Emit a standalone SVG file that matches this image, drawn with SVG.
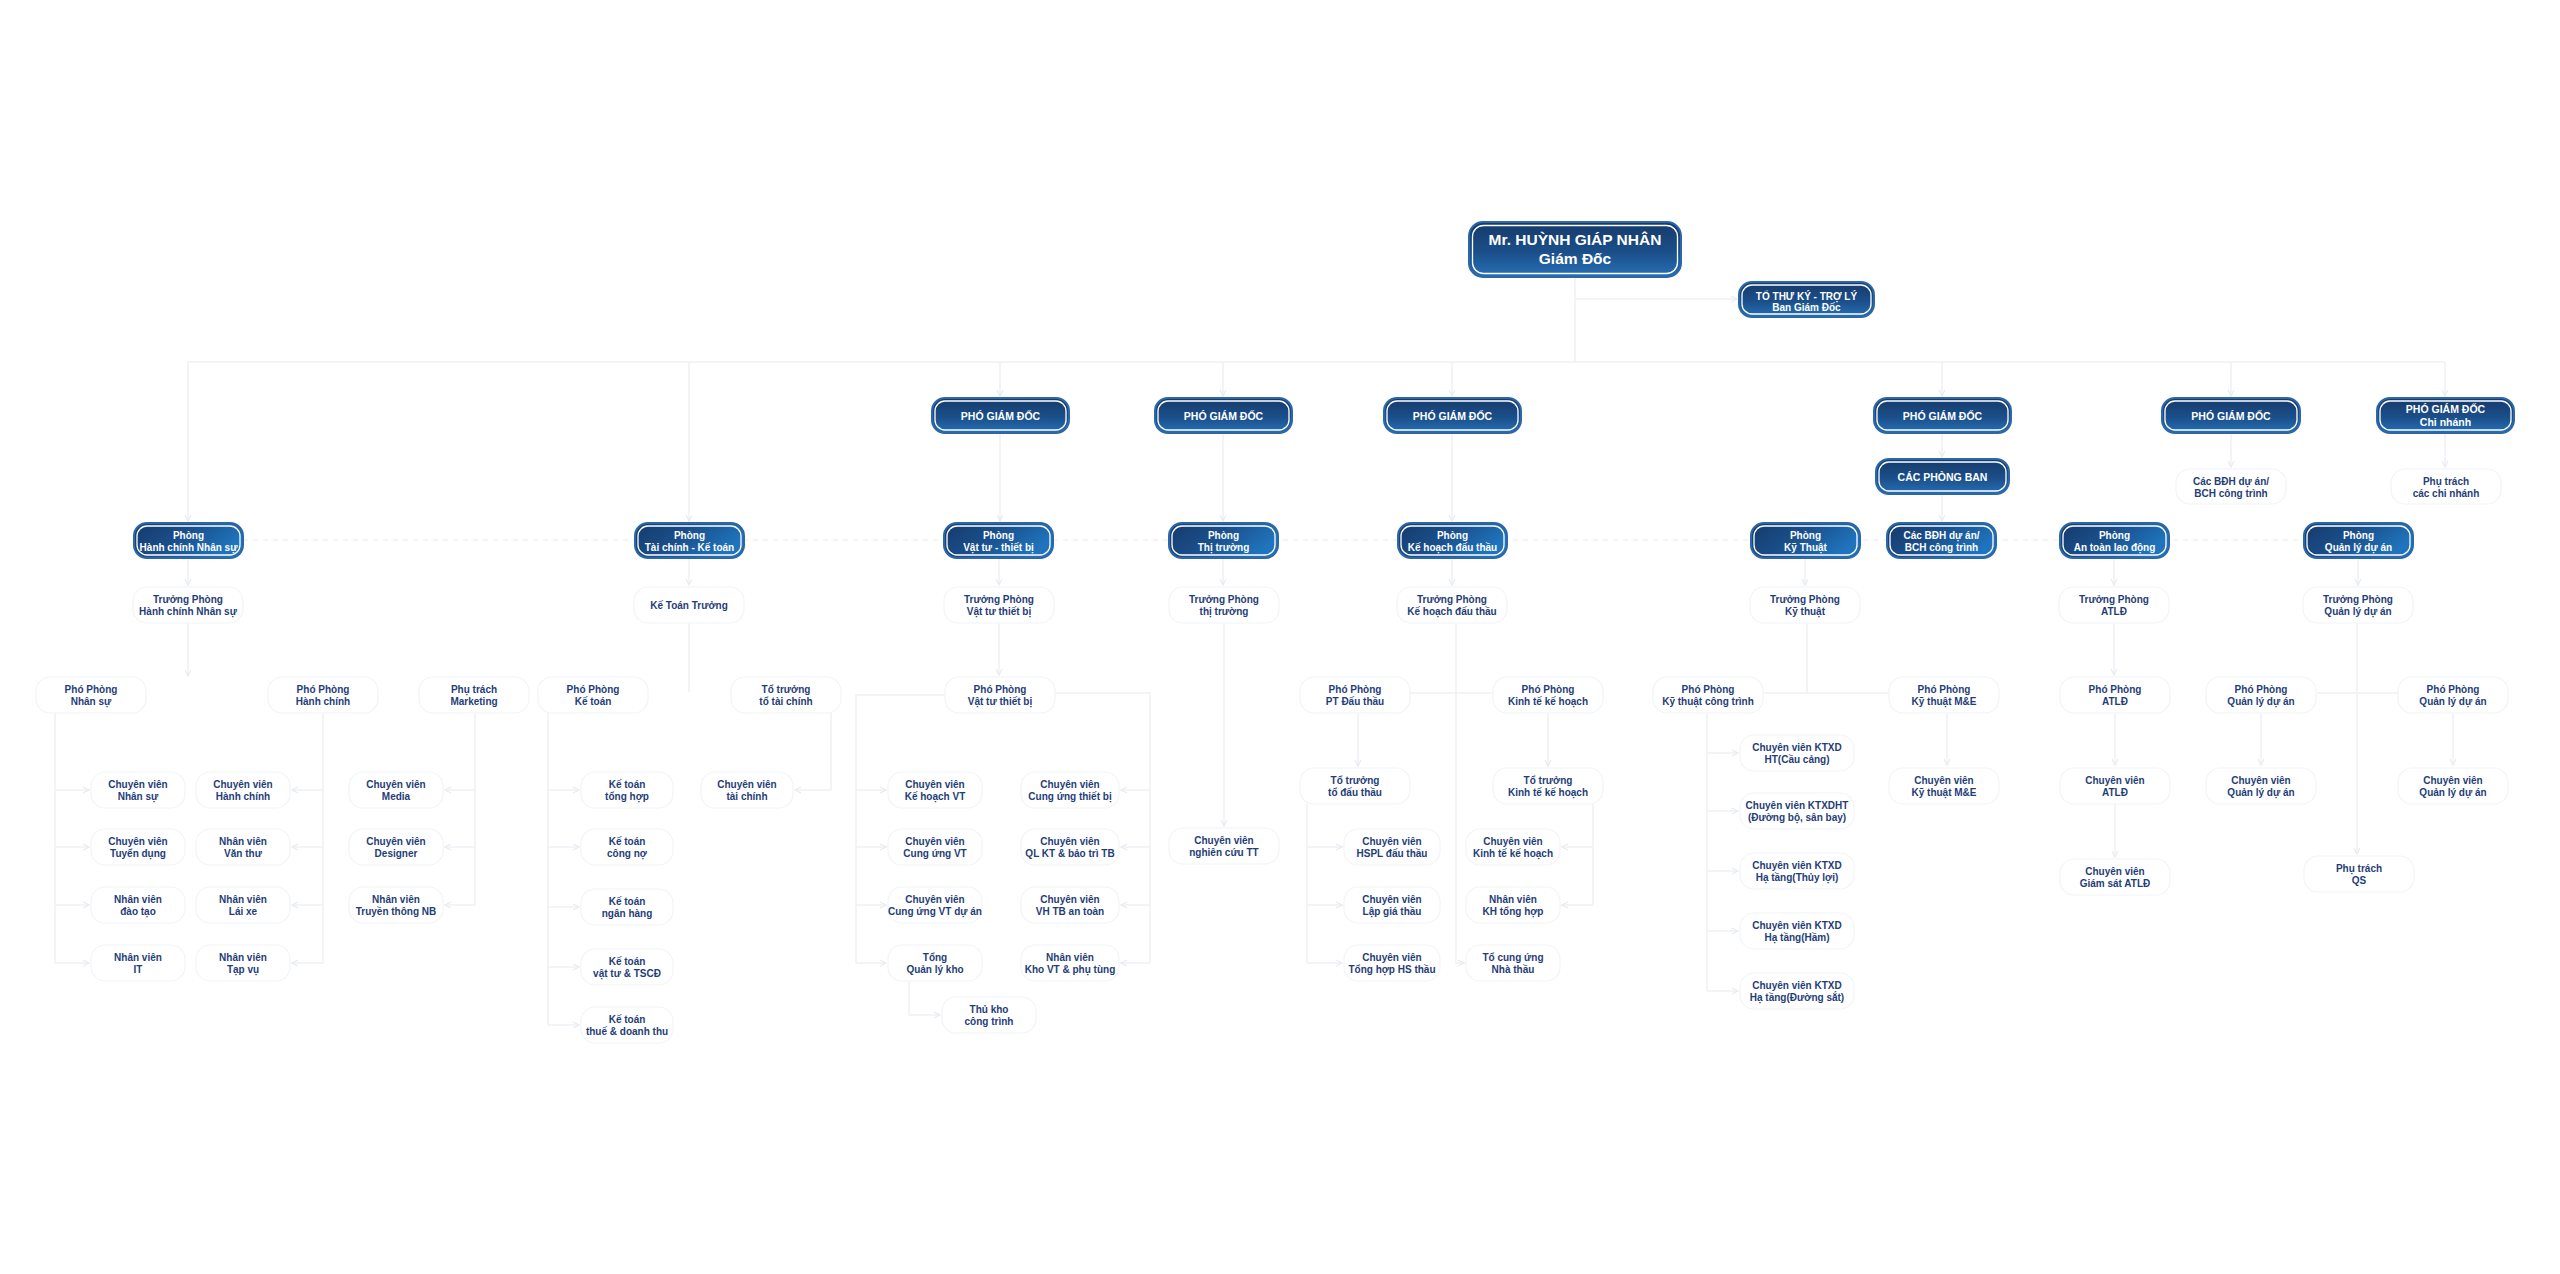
<svg xmlns="http://www.w3.org/2000/svg" width="2560" height="1274" viewBox="0 0 2560 1274">
<defs>
<linearGradient id="gv" x1="0" y1="0" x2="0" y2="1"><stop offset="0" stop-color="#163a6a"/><stop offset="0.55" stop-color="#1b4f8a"/><stop offset="1" stop-color="#2670b6"/></linearGradient>
<linearGradient id="gh" x1="0" y1="0" x2="1" y2="0.4"><stop offset="0" stop-color="#163a6a"/><stop offset="0.5" stop-color="#1a4f8b"/><stop offset="1" stop-color="#1f74bd"/></linearGradient>
<marker id="a" viewBox="0 0 8 8" refX="7" refY="4" markerWidth="8" markerHeight="8" markerUnits="userSpaceOnUse" orient="auto"><path d="M1,1 L7,4 L1,7" fill="none" stroke="#e8ebef" stroke-width="1.2"/></marker>
<style>
.bo{fill:url(#gv);stroke:#2c67a8;stroke-width:2}
.bp{fill:url(#gh);stroke:#2c67a8;stroke-width:2}
.bi{fill:none;stroke:#ffffff;stroke-width:1.3}
.bt{fill:#ffffff;font-family:"Liberation Sans",Arial,sans-serif;font-weight:bold;text-anchor:middle}
.wn{fill:#ffffff;stroke:#f2f4f7;stroke-width:1.2}
.wt{fill:#1f3d78;font-family:"Liberation Sans",Arial,sans-serif;font-weight:bold;font-size:10px;text-anchor:middle}
.c{fill:none;stroke:#eff1f4;stroke-width:1.5}
.d{stroke-dasharray:5 5}
</style>
</defs>
<rect width="2560" height="1274" fill="#ffffff"/>
<g id="connectors" class="c">
<path d="M1575,277 V362"/>
<path d="M1575,299 H1737" marker-end="url(#a)"/>
<path d="M188,362 H2445"/>
<path d="M188,362 V521" marker-end="url(#a)"/>
<path d="M689,362 V521" marker-end="url(#a)"/>
<path d="M1000,362 V396" marker-end="url(#a)"/>
<path d="M1223,362 V396" marker-end="url(#a)"/>
<path d="M1452,362 V396" marker-end="url(#a)"/>
<path d="M1942,362 V396" marker-end="url(#a)"/>
<path d="M2231,362 V396" marker-end="url(#a)"/>
<path d="M2445,362 V396" marker-end="url(#a)"/>
<path d="M1000,434 V521" marker-end="url(#a)"/>
<path d="M1223,434 V521" marker-end="url(#a)"/>
<path d="M1452,434 V521" marker-end="url(#a)"/>
<path d="M1942,434 V457" marker-end="url(#a)"/>
<path d="M1942,494 V521" marker-end="url(#a)"/>
<path d="M2231,434 V467" marker-end="url(#a)"/>
<path d="M2445,434 V467" marker-end="url(#a)"/>
<path class="c d" d="M243,540 H2304"/>
<path d="M188,558 V585" marker-end="url(#a)"/>
<path d="M689,558 V585" marker-end="url(#a)"/>
<path d="M999,558 V585" marker-end="url(#a)"/>
<path d="M1223,558 V585" marker-end="url(#a)"/>
<path d="M1452,558 V585" marker-end="url(#a)"/>
<path d="M1805,558 V585" marker-end="url(#a)"/>
<path d="M2114,558 V585" marker-end="url(#a)"/>
<path d="M2358,558 V585" marker-end="url(#a)"/>
<path d="M188,623 V676" marker-end="url(#a)"/>
<path d="M689,623 V692"/>
<path d="M999,623 V675" marker-end="url(#a)"/>
<path d="M1224,623 V826" marker-end="url(#a)"/>
<path d="M1456,623 V963 H1464" marker-end="url(#a)"/>
<path d="M1410,693 H1493"/>
<path d="M1807,623 V693"/>
<path d="M1763,693 H1889"/>
<path d="M2114,623 V675" marker-end="url(#a)"/>
<path d="M2357,623 V854" marker-end="url(#a)"/>
<path d="M2317,693 H2398"/>
<path d="M55,713 V963"/>
<path d="M55,790 H89" marker-end="url(#a)"/>
<path d="M55,847 H89" marker-end="url(#a)"/>
<path d="M55,905 H89" marker-end="url(#a)"/>
<path d="M55,963 H89" marker-end="url(#a)"/>
<path d="M323,713 V963"/>
<path d="M323,790 H292" marker-end="url(#a)"/>
<path d="M323,847 H292" marker-end="url(#a)"/>
<path d="M323,905 H292" marker-end="url(#a)"/>
<path d="M323,963 H292" marker-end="url(#a)"/>
<path d="M475,713 V905"/>
<path d="M475,790 H445" marker-end="url(#a)"/>
<path d="M475,847 H445" marker-end="url(#a)"/>
<path d="M475,905 H445" marker-end="url(#a)"/>
<path d="M548,713 V1025"/>
<path d="M548,790 H579" marker-end="url(#a)"/>
<path d="M548,847 H579" marker-end="url(#a)"/>
<path d="M548,907 H579" marker-end="url(#a)"/>
<path d="M548,967 H579" marker-end="url(#a)"/>
<path d="M548,1025 H579" marker-end="url(#a)"/>
<path d="M831,713 V790 H795" marker-end="url(#a)"/>
<path d="M945,695 H856 V963"/>
<path d="M856,790 H886" marker-end="url(#a)"/>
<path d="M856,847 H886" marker-end="url(#a)"/>
<path d="M856,905 H886" marker-end="url(#a)"/>
<path d="M856,963 H886" marker-end="url(#a)"/>
<path d="M1055,693 H1150 V963"/>
<path d="M1150,790 H1121" marker-end="url(#a)"/>
<path d="M1150,847 H1121" marker-end="url(#a)"/>
<path d="M1150,905 H1121" marker-end="url(#a)"/>
<path d="M1150,963 H1121" marker-end="url(#a)"/>
<path d="M909,981 V1015 H940" marker-end="url(#a)"/>
<path d="M1358,713 V766" marker-end="url(#a)"/>
<path d="M1307,804 V963"/>
<path d="M1307,847 H1342" marker-end="url(#a)"/>
<path d="M1307,905 H1342" marker-end="url(#a)"/>
<path d="M1307,963 H1342" marker-end="url(#a)"/>
<path d="M1548,713 V766" marker-end="url(#a)"/>
<path d="M1593,804 V905"/>
<path d="M1593,847 H1562" marker-end="url(#a)"/>
<path d="M1593,905 H1562" marker-end="url(#a)"/>
<path d="M1707,713 V991"/>
<path d="M1707,753 H1738" marker-end="url(#a)"/>
<path d="M1707,811 H1738" marker-end="url(#a)"/>
<path d="M1707,871 H1738" marker-end="url(#a)"/>
<path d="M1707,931 H1738" marker-end="url(#a)"/>
<path d="M1707,991 H1738" marker-end="url(#a)"/>
<path d="M1947,713 V765" marker-end="url(#a)"/>
<path d="M2115,713 V765" marker-end="url(#a)"/>
<path d="M2115,804 V857" marker-end="url(#a)"/>
<path d="M2261,713 V765" marker-end="url(#a)"/>
<path d="M2453,713 V765" marker-end="url(#a)"/>
</g>

<g id="n-director"><rect class="bo" x="1469" y="222" width="212" height="55" rx="14"/><rect class="bi" x="1472.5" y="225.5" width="205" height="48" rx="11"/><text class="bt" font-size="15.5" x="1575"><tspan x="1575" y="244.5">Mr. HUỲNH GIÁP NHÂN</tspan><tspan x="1575" y="263.5">Giám Đốc</tspan></text></g>
<g id="n-secretary"><rect class="bo" x="1739" y="282" width="135" height="35" rx="13"/><rect class="bi" x="1742" y="285" width="129" height="29" rx="10"/><text class="bt" font-size="10"><tspan x="1806.5" y="299.5">TỔ THƯ KÝ - TRỢ LÝ</tspan><tspan x="1806.5" y="311">Ban Giám Đốc</tspan></text></g>

<g id="n-vp1"><rect class="bo" x="932" y="398" width="137" height="35" rx="13"/><rect class="bi" x="935" y="401" width="131" height="29" rx="10"/><text class="bt" font-size="10.5" x="1000.5" y="419.5">PHÓ GIÁM ĐỐC</text></g>
<g id="n-vp2"><rect class="bo" x="1155" y="398" width="137" height="35" rx="13"/><rect class="bi" x="1158" y="401" width="131" height="29" rx="10"/><text class="bt" font-size="10.5" x="1223.5" y="419.5">PHÓ GIÁM ĐỐC</text></g>
<g id="n-vp3"><rect class="bo" x="1384" y="398" width="137" height="35" rx="13"/><rect class="bi" x="1387" y="401" width="131" height="29" rx="10"/><text class="bt" font-size="10.5" x="1452.5" y="419.5">PHÓ GIÁM ĐỐC</text></g>
<g id="n-vp4"><rect class="bo" x="1874" y="398" width="137" height="35" rx="13"/><rect class="bi" x="1877" y="401" width="131" height="29" rx="10"/><text class="bt" font-size="10.5" x="1942.5" y="419.5">PHÓ GIÁM ĐỐC</text></g>
<g id="n-vp5"><rect class="bo" x="2162" y="398" width="138" height="35" rx="13"/><rect class="bi" x="2165" y="401" width="132" height="29" rx="10"/><text class="bt" font-size="10.5" x="2231" y="419.5">PHÓ GIÁM ĐỐC</text></g>
<g id="n-vp6"><rect class="bo" x="2377" y="398" width="137" height="35" rx="13"/><rect class="bi" x="2380" y="401" width="131" height="29" rx="10"/><text class="bt" font-size="10.5"><tspan x="2445.5" y="413">PHÓ GIÁM ĐỐC</tspan><tspan x="2445.5" y="426">Chi nhánh</tspan></text></g>
<g id="n-cacphongban"><rect class="bo" x="1876" y="459" width="133" height="35" rx="13"/><rect class="bi" x="1879" y="462" width="127" height="29" rx="10"/><text class="bt" font-size="10.5" x="1942.5" y="481">CÁC PHÒNG BAN</text></g>

<g id="n-p-hcns"><rect class="bp" x="134" y="523" width="109" height="35" rx="13"/><rect class="bi" x="137" y="526" width="103" height="29" rx="10"/><text class="bt" font-size="10"><tspan x="188.5" y="538.5">Phòng</tspan><tspan x="188.5" y="550.5">Hành chính Nhân sự</tspan></text></g>
<g id="n-p-tckt"><rect class="bp" x="635" y="523" width="109" height="35" rx="13"/><rect class="bi" x="638" y="526" width="103" height="29" rx="10"/><text class="bt" font-size="10"><tspan x="689.5" y="538.5">Phòng</tspan><tspan x="689.5" y="550.5">Tài chính - Kế toán</tspan></text></g>
<g id="n-p-vttb"><rect class="bp" x="944" y="523" width="109" height="35" rx="13"/><rect class="bi" x="947" y="526" width="103" height="29" rx="10"/><text class="bt" font-size="10"><tspan x="998.5" y="538.5">Phòng</tspan><tspan x="998.5" y="550.5">Vật tư - thiết bị</tspan></text></g>
<g id="n-p-tt"><rect class="bp" x="1169" y="523" width="109" height="35" rx="13"/><rect class="bi" x="1172" y="526" width="103" height="29" rx="10"/><text class="bt" font-size="10"><tspan x="1223.5" y="538.5">Phòng</tspan><tspan x="1223.5" y="550.5">Thị trường</tspan></text></g>
<g id="n-p-khdt"><rect class="bp" x="1398" y="523" width="109" height="35" rx="13"/><rect class="bi" x="1401" y="526" width="103" height="29" rx="10"/><text class="bt" font-size="10"><tspan x="1452.5" y="538.5">Phòng</tspan><tspan x="1452.5" y="550.5">Kế hoạch đấu thầu</tspan></text></g>
<g id="n-p-kt"><rect class="bp" x="1751" y="523" width="109" height="35" rx="13"/><rect class="bi" x="1754" y="526" width="103" height="29" rx="10"/><text class="bt" font-size="10"><tspan x="1805.5" y="538.5">Phòng</tspan><tspan x="1805.5" y="550.5">Kỹ Thuật</tspan></text></g>
<g id="n-p-bdh"><rect class="bp" x="1887" y="523" width="109" height="35" rx="13"/><rect class="bi" x="1890" y="526" width="103" height="29" rx="10"/><text class="bt" font-size="10"><tspan x="1941.5" y="538.5">Các BĐH dự án/</tspan><tspan x="1941.5" y="550.5">BCH công trình</tspan></text></g>
<g id="n-p-atld"><rect class="bp" x="2060" y="523" width="109" height="35" rx="13"/><rect class="bi" x="2063" y="526" width="103" height="29" rx="10"/><text class="bt" font-size="10"><tspan x="2114.5" y="538.5">Phòng</tspan><tspan x="2114.5" y="550.5">An toàn lao động</tspan></text></g>
<g id="n-p-qlda"><rect class="bp" x="2304" y="523" width="109" height="35" rx="13"/><rect class="bi" x="2307" y="526" width="103" height="29" rx="10"/><text class="bt" font-size="10"><tspan x="2358.5" y="538.5">Phòng</tspan><tspan x="2358.5" y="550.5">Quản lý dự án</tspan></text></g>

<g id="n-bdh2"><rect class="wn" x="2176" y="469" width="110" height="35" rx="14"/><text class="wt"><tspan x="2231" y="484.5">Các BĐH dự án/</tspan><tspan x="2231" y="496.5">BCH công trình</tspan></text></g>
<g id="n-ptcn"><rect class="wn" x="2391" y="469" width="110" height="35" rx="14"/><text class="wt"><tspan x="2446" y="484.5">Phụ trách</tspan><tspan x="2446" y="496.5">các chi nhánh</tspan></text></g>

<g id="n-tp-hcns"><rect class="wn" x="133" y="587" width="110" height="36" rx="14"/><text class="wt"><tspan x="188" y="603">Trưởng Phòng</tspan><tspan x="188" y="615">Hành chính Nhân sự</tspan></text></g>
<g id="n-ktt"><rect class="wn" x="634" y="587" width="110" height="36" rx="14"/><text class="wt" x="689" y="608.5">Kế Toán Trưởng</text></g>
<g id="n-tp-vt"><rect class="wn" x="944" y="587" width="110" height="36" rx="14"/><text class="wt"><tspan x="999" y="603">Trưởng Phòng</tspan><tspan x="999" y="615">Vật tư thiết bị</tspan></text></g>
<g id="n-tp-tt"><rect class="wn" x="1169" y="587" width="110" height="36" rx="14"/><text class="wt"><tspan x="1224" y="603">Trưởng Phòng</tspan><tspan x="1224" y="615">thị trường</tspan></text></g>
<g id="n-tp-khdt"><rect class="wn" x="1397" y="587" width="110" height="36" rx="14"/><text class="wt"><tspan x="1452" y="603">Trưởng Phòng</tspan><tspan x="1452" y="615">Kế hoạch đấu thầu</tspan></text></g>
<g id="n-tp-kt"><rect class="wn" x="1750" y="587" width="110" height="36" rx="14"/><text class="wt"><tspan x="1805" y="603">Trưởng Phòng</tspan><tspan x="1805" y="615">Kỹ thuật</tspan></text></g>
<g id="n-tp-atld"><rect class="wn" x="2059" y="587" width="110" height="36" rx="14"/><text class="wt"><tspan x="2114" y="603">Trưởng Phòng</tspan><tspan x="2114" y="615">ATLĐ</tspan></text></g>
<g id="n-tp-qlda"><rect class="wn" x="2303" y="587" width="110" height="36" rx="14"/><text class="wt"><tspan x="2358" y="603">Trưởng Phòng</tspan><tspan x="2358" y="615">Quản lý dự án</tspan></text></g>

<g id="n-pp-ns"><rect class="wn" x="36" y="677" width="110" height="36" rx="14"/><text class="wt"><tspan x="91" y="693">Phó Phòng</tspan><tspan x="91" y="705">Nhân sự</tspan></text></g>
<g id="n-pp-hc"><rect class="wn" x="268" y="677" width="110" height="36" rx="14"/><text class="wt"><tspan x="323" y="693">Phó Phòng</tspan><tspan x="323" y="705">Hành chính</tspan></text></g>
<g id="n-pt-mkt"><rect class="wn" x="419" y="677" width="110" height="36" rx="14"/><text class="wt"><tspan x="474" y="693">Phụ trách</tspan><tspan x="474" y="705">Marketing</tspan></text></g>
<g id="n-pp-kt"><rect class="wn" x="538" y="677" width="110" height="36" rx="14"/><text class="wt"><tspan x="593" y="693">Phó Phòng</tspan><tspan x="593" y="705">Kế toán</tspan></text></g>
<g id="n-tt-tc"><rect class="wn" x="731" y="677" width="110" height="36" rx="14"/><text class="wt"><tspan x="786" y="693">Tổ trưởng</tspan><tspan x="786" y="705">tổ tài chính</tspan></text></g>
<g id="n-pp-vt"><rect class="wn" x="945" y="677" width="110" height="36" rx="14"/><text class="wt"><tspan x="1000" y="693">Phó Phòng</tspan><tspan x="1000" y="705">Vật tư thiết bị</tspan></text></g>
<g id="n-pp-dt"><rect class="wn" x="1300" y="677" width="110" height="36" rx="14"/><text class="wt"><tspan x="1355" y="693">Phó Phòng</tspan><tspan x="1355" y="705">PT Đấu thầu</tspan></text></g>
<g id="n-pp-ktkh"><rect class="wn" x="1493" y="677" width="110" height="36" rx="14"/><text class="wt"><tspan x="1548" y="693">Phó Phòng</tspan><tspan x="1548" y="705">Kinh tế kế hoạch</tspan></text></g>
<g id="n-pp-ktct"><rect class="wn" x="1653" y="677" width="110" height="36" rx="14"/><text class="wt"><tspan x="1708" y="693">Phó Phòng</tspan><tspan x="1708" y="705">Kỹ thuật công trình</tspan></text></g>
<g id="n-pp-me"><rect class="wn" x="1889" y="677" width="110" height="36" rx="14"/><text class="wt"><tspan x="1944" y="693">Phó Phòng</tspan><tspan x="1944" y="705">Kỹ thuật M&amp;E</tspan></text></g>
<g id="n-pp-atld"><rect class="wn" x="2060" y="677" width="110" height="36" rx="14"/><text class="wt"><tspan x="2115" y="693">Phó Phòng</tspan><tspan x="2115" y="705">ATLĐ</tspan></text></g>
<g id="n-pp-qlda1"><rect class="wn" x="2206" y="677" width="110" height="36" rx="14"/><text class="wt"><tspan x="2261" y="693">Phó Phòng</tspan><tspan x="2261" y="705">Quản lý dự án</tspan></text></g>
<g id="n-pp-qlda2"><rect class="wn" x="2398" y="677" width="110" height="36" rx="14"/><text class="wt"><tspan x="2453" y="693">Phó Phòng</tspan><tspan x="2453" y="705">Quản lý dự án</tspan></text></g>

<g id="n-cv-ns"><rect class="wn" x="91" y="772" width="94" height="36" rx="14"/><text class="wt"><tspan x="138" y="788">Chuyên viên</tspan><tspan x="138" y="800">Nhân sự</tspan></text></g>
<g id="n-cv-td"><rect class="wn" x="91" y="829" width="94" height="36" rx="14"/><text class="wt"><tspan x="138" y="845">Chuyên viên</tspan><tspan x="138" y="857">Tuyển dụng</tspan></text></g>
<g id="n-nv-dt"><rect class="wn" x="91" y="887" width="94" height="36" rx="14"/><text class="wt"><tspan x="138" y="903">Nhân viên</tspan><tspan x="138" y="915">đào tạo</tspan></text></g>
<g id="n-nv-it"><rect class="wn" x="91" y="945" width="94" height="36" rx="14"/><text class="wt"><tspan x="138" y="961">Nhân viên</tspan><tspan x="138" y="973">IT</tspan></text></g>
<g id="n-cv-hc"><rect class="wn" x="196" y="772" width="94" height="36" rx="14"/><text class="wt"><tspan x="243" y="788">Chuyên viên</tspan><tspan x="243" y="800">Hành chính</tspan></text></g>
<g id="n-nv-vt"><rect class="wn" x="196" y="829" width="94" height="36" rx="14"/><text class="wt"><tspan x="243" y="845">Nhân viên</tspan><tspan x="243" y="857">Văn thư</tspan></text></g>
<g id="n-nv-lx"><rect class="wn" x="196" y="887" width="94" height="36" rx="14"/><text class="wt"><tspan x="243" y="903">Nhân viên</tspan><tspan x="243" y="915">Lái xe</tspan></text></g>
<g id="n-nv-tv"><rect class="wn" x="196" y="945" width="94" height="36" rx="14"/><text class="wt"><tspan x="243" y="961">Nhân viên</tspan><tspan x="243" y="973">Tạp vụ</tspan></text></g>
<g id="n-cv-media"><rect class="wn" x="349" y="772" width="94" height="36" rx="14"/><text class="wt"><tspan x="396" y="788">Chuyên viên</tspan><tspan x="396" y="800">Media</tspan></text></g>
<g id="n-cv-des"><rect class="wn" x="349" y="829" width="94" height="36" rx="14"/><text class="wt"><tspan x="396" y="845">Chuyên viên</tspan><tspan x="396" y="857">Designer</tspan></text></g>
<g id="n-nv-tt"><rect class="wn" x="349" y="887" width="94" height="36" rx="14"/><text class="wt"><tspan x="396" y="903">Nhân viên</tspan><tspan x="396" y="915">Truyền thông NB</tspan></text></g>

<g id="n-kt-th"><rect class="wn" x="581" y="772" width="92" height="36" rx="14"/><text class="wt"><tspan x="627" y="788">Kế toán</tspan><tspan x="627" y="800">tổng hợp</tspan></text></g>
<g id="n-kt-cn"><rect class="wn" x="581" y="829" width="92" height="36" rx="14"/><text class="wt"><tspan x="627" y="845">Kế toán</tspan><tspan x="627" y="857">công nợ</tspan></text></g>
<g id="n-kt-nh"><rect class="wn" x="581" y="889" width="92" height="36" rx="14"/><text class="wt"><tspan x="627" y="905">Kế toán</tspan><tspan x="627" y="917">ngân hàng</tspan></text></g>
<g id="n-kt-vt"><rect class="wn" x="581" y="949" width="92" height="36" rx="14"/><text class="wt"><tspan x="627" y="965">Kế toán</tspan><tspan x="627" y="977">vật tư &amp; TSCĐ</tspan></text></g>
<g id="n-kt-thue"><rect class="wn" x="581" y="1007" width="92" height="36" rx="14"/><text class="wt"><tspan x="627" y="1023">Kế toán</tspan><tspan x="627" y="1035">thuế &amp; doanh thu</tspan></text></g>
<g id="n-cv-tc"><rect class="wn" x="701" y="772" width="92" height="36" rx="14"/><text class="wt"><tspan x="747" y="788">Chuyên viên</tspan><tspan x="747" y="800">tài chính</tspan></text></g>

<g id="n-cv-khvt"><rect class="wn" x="888" y="772" width="94" height="36" rx="14"/><text class="wt"><tspan x="935" y="788">Chuyên viên</tspan><tspan x="935" y="800">Kế hoạch VT</tspan></text></g>
<g id="n-cv-cuvt"><rect class="wn" x="888" y="829" width="94" height="36" rx="14"/><text class="wt"><tspan x="935" y="845">Chuyên viên</tspan><tspan x="935" y="857">Cung ứng VT</tspan></text></g>
<g id="n-cv-cuvtda"><rect class="wn" x="888" y="887" width="94" height="36" rx="14"/><text class="wt"><tspan x="935" y="903">Chuyên viên</tspan><tspan x="935" y="915">Cung ứng VT dự án</tspan></text></g>
<g id="n-tong-kho"><rect class="wn" x="888" y="945" width="94" height="36" rx="14"/><text class="wt"><tspan x="935" y="961">Tổng</tspan><tspan x="935" y="973">Quản lý kho</tspan></text></g>
<g id="n-cv-cutb"><rect class="wn" x="1021" y="772" width="98" height="36" rx="14"/><text class="wt"><tspan x="1070" y="788">Chuyên viên</tspan><tspan x="1070" y="800">Cung ứng thiết bị</tspan></text></g>
<g id="n-cv-qlkt"><rect class="wn" x="1021" y="829" width="98" height="36" rx="14"/><text class="wt"><tspan x="1070" y="845">Chuyên viên</tspan><tspan x="1070" y="857">QL KT &amp; bảo trì TB</tspan></text></g>
<g id="n-cv-vhtb"><rect class="wn" x="1021" y="887" width="98" height="36" rx="14"/><text class="wt"><tspan x="1070" y="903">Chuyên viên</tspan><tspan x="1070" y="915">VH TB an toàn</tspan></text></g>
<g id="n-nv-kho"><rect class="wn" x="1021" y="945" width="98" height="36" rx="14"/><text class="wt"><tspan x="1070" y="961">Nhân viên</tspan><tspan x="1070" y="973">Kho VT &amp; phụ tùng</tspan></text></g>
<g id="n-thukho"><rect class="wn" x="942" y="997" width="94" height="36" rx="14"/><text class="wt"><tspan x="989" y="1013">Thủ kho</tspan><tspan x="989" y="1025">công trình</tspan></text></g>

<g id="n-cv-nctt"><rect class="wn" x="1169" y="828" width="110" height="36" rx="14"/><text class="wt"><tspan x="1224" y="844">Chuyên viên</tspan><tspan x="1224" y="856">nghiên cứu TT</tspan></text></g>

<g id="n-tt-dt"><rect class="wn" x="1300" y="768" width="110" height="36" rx="14"/><text class="wt"><tspan x="1355" y="784">Tổ trưởng</tspan><tspan x="1355" y="796">tổ đấu thầu</tspan></text></g>
<g id="n-tt-ktkh"><rect class="wn" x="1493" y="768" width="110" height="36" rx="14"/><text class="wt"><tspan x="1548" y="784">Tổ trưởng</tspan><tspan x="1548" y="796">Kinh tế kế hoạch</tspan></text></g>
<g id="n-cv-hspl"><rect class="wn" x="1344" y="829" width="96" height="36" rx="14"/><text class="wt"><tspan x="1392" y="845">Chuyên viên</tspan><tspan x="1392" y="857">HSPL đấu thầu</tspan></text></g>
<g id="n-cv-lgt"><rect class="wn" x="1344" y="887" width="96" height="36" rx="14"/><text class="wt"><tspan x="1392" y="903">Chuyên viên</tspan><tspan x="1392" y="915">Lập giá thầu</tspan></text></g>
<g id="n-cv-thhs"><rect class="wn" x="1344" y="945" width="96" height="36" rx="14"/><text class="wt"><tspan x="1392" y="961">Chuyên viên</tspan><tspan x="1392" y="973">Tổng hợp HS thầu</tspan></text></g>
<g id="n-cv-ktkh"><rect class="wn" x="1466" y="829" width="94" height="36" rx="14"/><text class="wt"><tspan x="1513" y="845">Chuyên viên</tspan><tspan x="1513" y="857">Kinh tế kế hoạch</tspan></text></g>
<g id="n-nv-khth"><rect class="wn" x="1466" y="887" width="94" height="36" rx="14"/><text class="wt"><tspan x="1513" y="903">Nhân viên</tspan><tspan x="1513" y="915">KH tổng hợp</tspan></text></g>
<g id="n-to-cu"><rect class="wn" x="1466" y="945" width="94" height="36" rx="14"/><text class="wt"><tspan x="1513" y="961">Tổ cung ứng</tspan><tspan x="1513" y="973">Nhà thầu</tspan></text></g>

<g id="n-ktxd1"><rect class="wn" x="1740" y="735" width="114" height="36" rx="14"/><text class="wt"><tspan x="1797" y="751">Chuyên viên KTXD</tspan><tspan x="1797" y="763">HT(Cầu cảng)</tspan></text></g>
<g id="n-ktxd2"><rect class="wn" x="1740" y="793" width="114" height="36" rx="14"/><text class="wt"><tspan x="1797" y="809">Chuyên viên KTXDHT</tspan><tspan x="1797" y="821">(Đường bộ, sân bay)</tspan></text></g>
<g id="n-ktxd3"><rect class="wn" x="1740" y="853" width="114" height="36" rx="14"/><text class="wt"><tspan x="1797" y="869">Chuyên viên KTXD</tspan><tspan x="1797" y="881">Hạ tầng(Thủy lợi)</tspan></text></g>
<g id="n-ktxd4"><rect class="wn" x="1740" y="913" width="114" height="36" rx="14"/><text class="wt"><tspan x="1797" y="929">Chuyên viên KTXD</tspan><tspan x="1797" y="941">Hạ tầng(Hầm)</tspan></text></g>
<g id="n-ktxd5"><rect class="wn" x="1740" y="973" width="114" height="36" rx="14"/><text class="wt"><tspan x="1797" y="989">Chuyên viên KTXD</tspan><tspan x="1797" y="1001">Hạ tầng(Đường sắt)</tspan></text></g>
<g id="n-cv-me"><rect class="wn" x="1889" y="768" width="110" height="36" rx="14"/><text class="wt"><tspan x="1944" y="784">Chuyên viên</tspan><tspan x="1944" y="796">Kỹ thuật M&amp;E</tspan></text></g>

<g id="n-cv-atld"><rect class="wn" x="2060" y="768" width="110" height="36" rx="14"/><text class="wt"><tspan x="2115" y="784">Chuyên viên</tspan><tspan x="2115" y="796">ATLĐ</tspan></text></g>
<g id="n-cv-gsatld"><rect class="wn" x="2060" y="859" width="110" height="36" rx="14"/><text class="wt"><tspan x="2115" y="875">Chuyên viên</tspan><tspan x="2115" y="887">Giám sát ATLĐ</tspan></text></g>
<g id="n-cv-qlda1"><rect class="wn" x="2206" y="768" width="110" height="36" rx="14"/><text class="wt"><tspan x="2261" y="784">Chuyên viên</tspan><tspan x="2261" y="796">Quản lý dự án</tspan></text></g>
<g id="n-cv-qlda2"><rect class="wn" x="2398" y="768" width="110" height="36" rx="14"/><text class="wt"><tspan x="2453" y="784">Chuyên viên</tspan><tspan x="2453" y="796">Quản lý dự án</tspan></text></g>
<g id="n-pt-qs"><rect class="wn" x="2304" y="856" width="110" height="36" rx="14"/><text class="wt"><tspan x="2359" y="872">Phụ trách</tspan><tspan x="2359" y="884">QS</tspan></text></g>
</svg>
